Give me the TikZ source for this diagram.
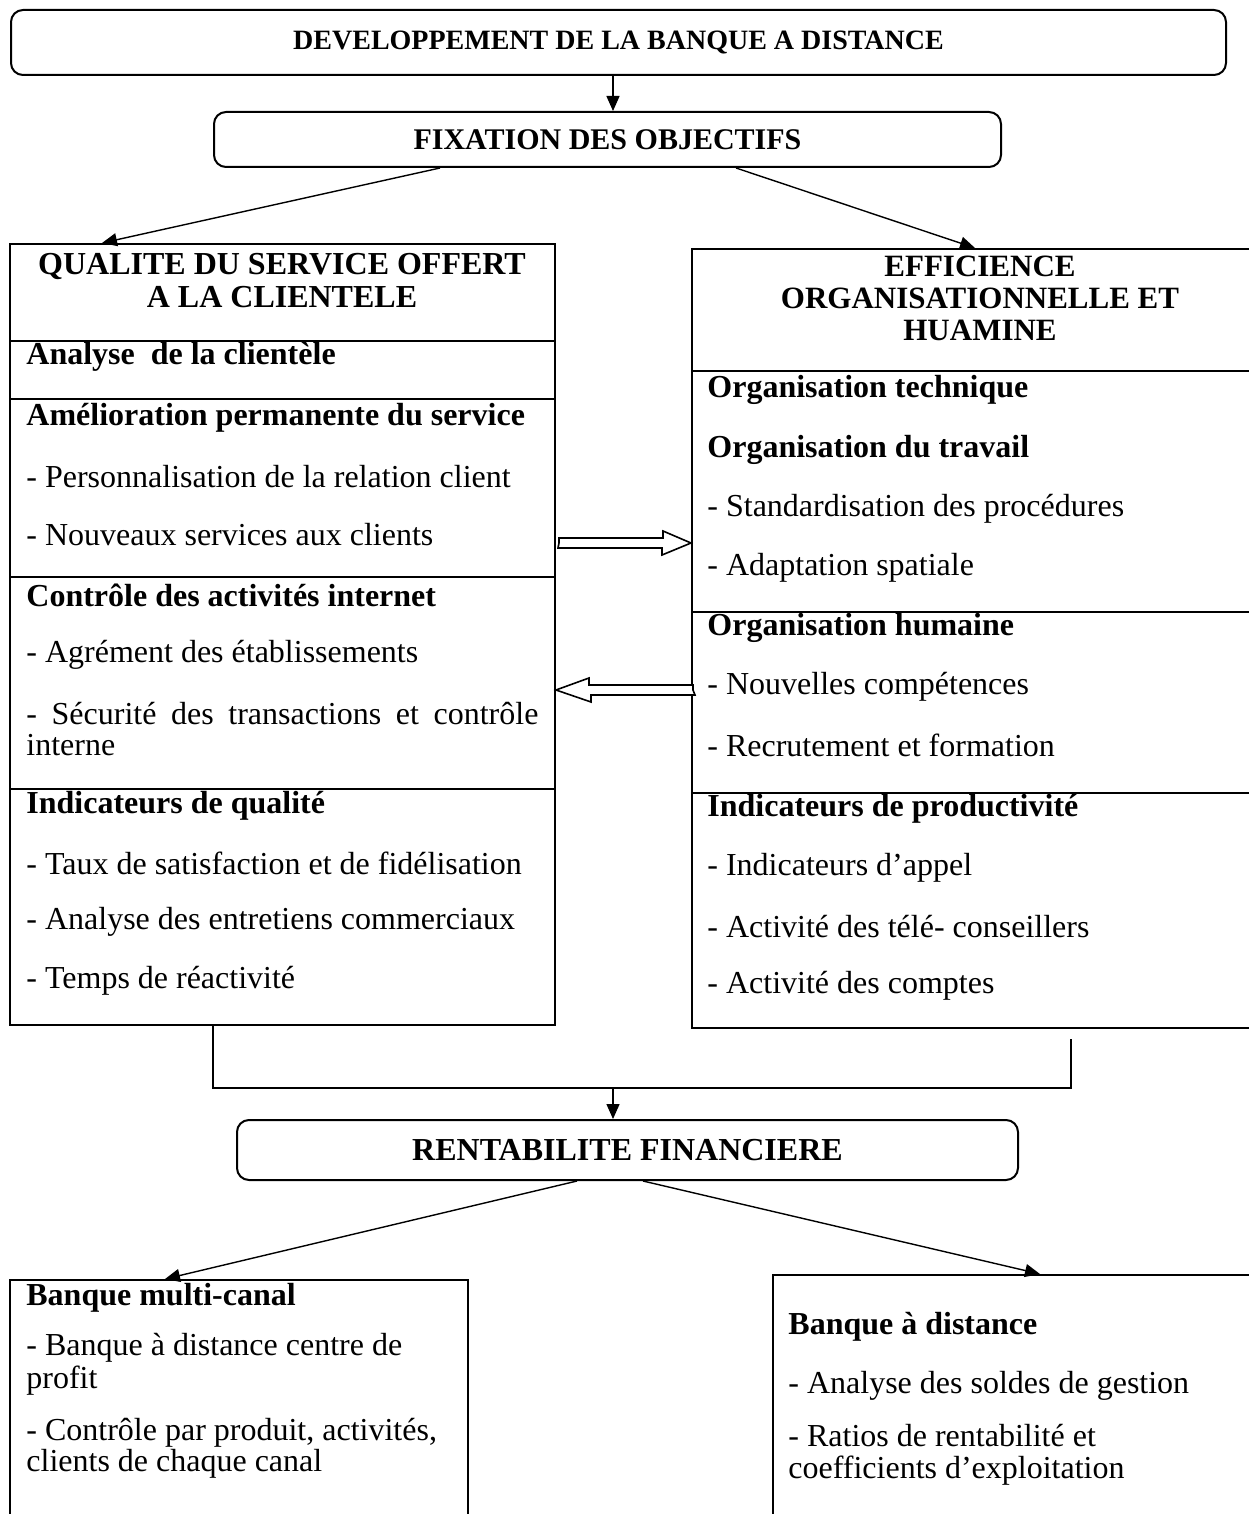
\documentclass[tikz,border=0pt]{standalone}
\usepackage{fontspec}
\setmainfont{Liberation Serif}
\usetikzlibrary{arrows.meta}

\tikzset{
  box/.style={draw, line width=1pt, rectangle, inner sep=0pt},
  rbox/.style={box, rounded corners=6pt, font=\bfseries},
  arr/.style={line width=0.7pt, -{Triangle[length=7.5pt,width=6.5pt]}},
  txt/.style={anchor=west, inner sep=0pt, font=\fontsize{16}{16}\selectfont},
  hd/.style={txt, font=\fontsize{16}{16}\selectfont\bfseries},
  ttl/.style={inner sep=0pt, align=center, font=\fontsize{16}{16.5}\selectfont\bfseries},
  hollow/.style={draw, line width=0.8pt, fill=white},
}

\begin{document}
\begin{tikzpicture}[x=0.5pt, y=-0.5pt]
    \useasboundingbox (0,0) rectangle (1248,1514);
    % main boxes
    \node[rbox, minimum width=607.5pt, minimum height=32.5pt, font=\fontsize{14}{16}\selectfont\bfseries] (dev) at (618.5,42.5) {DEVELOPPEMENT DE LA BANQUE A DISTANCE};
    \node[rbox, minimum width=393.5pt, minimum height=27.5pt, font=\fontsize{15}{17}\selectfont\bfseries] (fix) at (607.5,139.5) {FIXATION DES OBJECTIFS};
    \node[box, minimum width=272.5pt, minimum height=390.5pt] (qual) at (282.5,634.5) {};
    \node[box, minimum width=304pt, minimum height=389.5pt] (eff) at (996,638.5) {};
    \node[rbox, minimum width=390.5pt, minimum height=30pt, font=\fontsize{16}{18}\selectfont\bfseries] (rent) at (627.5,1150) {RENTABILITE FINANCIERE};
    \node[box, minimum width=229pt, minimum height=140pt] (multi) at (239,1420) {};
    \node[box, minimum width=263.5pt, minimum height=142.5pt] (dist) at (1036.5,1417.5) {};

    % separators
    \foreach \y in {341,399,577,789} {
      \draw[line width=1pt] (qual.west |- 0,\y) -- (qual.east |- 0,\y);
    }
    \foreach \y in {371,612,793} {
      \draw[line width=1pt] (eff.west |- 0,\y) -- (eff.east |- 0,\y);
    }

    % titles
    \node[ttl] (qualt) at (282,281) {QUALITE DU SERVICE OFFERT\\A LA CLIENTELE};
    \node[ttl, font=\fontsize{15.5}{16}\selectfont\bfseries] (efft) at (980,298) {EFFICIENCE\\ORGANISATIONNELLE ET\\HUAMINE};

    % left column
    \node[hd] (q1) at (26,357) {Analyse\ \ de la clientèle};
    \node[hd] (q2) at (26,418) {Amélioration permanente du service};
    \node[txt] (q3) at (26,477) {- Personnalisation de la relation client};
    \node[txt] (q4) at (26,535) {- Nouveaux services aux clients};
    \node[hd] (q5) at (26,595) {Contrôle des activités internet};
    \node[txt] (q6) at (26,655) {- Agrément des établissements};
    \node[txt, align=left, font=\fontsize{16}{15.5}\selectfont] (q7) at (26,729.5) {\makebox[256pt][s]{- Sécurité des transactions et contrôle}\\interne};
    \node[hd] (q8) at (26,806) {Indicateurs de qualité};
    \node[txt] (q9) at (26,863) {- Taux de satisfaction et de fidélisation};
    \node[txt] (q10) at (26,922) {- Analyse des entretiens commerciaux};
    \node[txt] (q11) at (26,981) {- Temps de réactivité};

    % right column
    \node[hd] (e1) at (707,390) {Organisation technique};
    \node[hd] (e2) at (707,450) {Organisation du travail};
    \node[txt] (e3) at (707,509) {- Standardisation des procédures};
    \node[txt] (e4) at (707,568) {- Adaptation spatiale};
    \node[hd] (e5) at (707,628) {Organisation humaine};
    \node[txt] (e6) at (707,687) {- Nouvelles compétences};
    \node[txt] (e7) at (707,745) {- Recrutement et formation};
    \node[hd] (e8) at (707,809) {Indicateurs de productivité};
    \node[txt] (e9) at (707,868) {- Indicateurs d’appel};
    \node[txt] (e10) at (707,927) {- Activité des télé- conseillers};
    \node[txt] (e11) at (707,986) {- Activité des comptes};

    % bottom boxes
    \node[hd] (m1) at (26,1298) {Banque multi-canal};
    \node[txt, align=left, font=\fontsize{16}{16.5}\selectfont] (m2) at (26,1364.5) {- Banque à distance centre de\\profit};
    \node[txt, align=left, font=\fontsize{16}{15.5}\selectfont] (m3) at (26,1448.5) {- Contrôle par produit, activités,\\clients de chaque canal};
    \node[hd] (d1) at (788,1327) {Banque à distance};
    \node[txt] (d2) at (788,1386) {- Analyse des soldes de gestion};
    \node[txt, align=left] (d3) at (788,1455) {- Ratios de rentabilité et\\coefficients d’exploitation};

    % arrows
    \draw[arr] (613,0 |- dev.south) -- (613,0 |- fix.north);
    \draw[arr] (440,0 |- fix.south) -- (102,0 |- qual.north);
    \draw[arr] (736,0 |- fix.south) -- (975,0 |- eff.north);
    \draw[line width=0.7pt] (213,0 |- qual.south) -- (213,1088) -| (1071,1039);
    \draw[arr] (613,1088) -- (613,0 |- rent.north);
    \draw[arr] (577,0 |- rent.south) -- (165,0 |- multi.north);
    \draw[arr] (643,0 |- rent.south) -- (1040,0 |- dist.north);

    % hollow arrows between the columns
    \coordinate (ra) at (qual.east |- 0,543);
    \coordinate (la) at (eff.west |- 0,690);
    \draw[hollow] ([xshift=1.5pt]ra) -- ++(0,-5) -- ++(104,0) -- ++(0,-7) -- (eff.west |- 0,543)
      -- (662,555) -- ++(0,-7) -- ++(-104,0) -- cycle;
    \draw[hollow] ([xshift=1pt]la) -- ++(0,-5) -- ++(-104,0) -- ++(0,-7) -- (qual.east |- 0,690)
      -- (591,702) -- ++(0,-7) -- ++(104,0) -- cycle;
\end{tikzpicture}
\end{document}
